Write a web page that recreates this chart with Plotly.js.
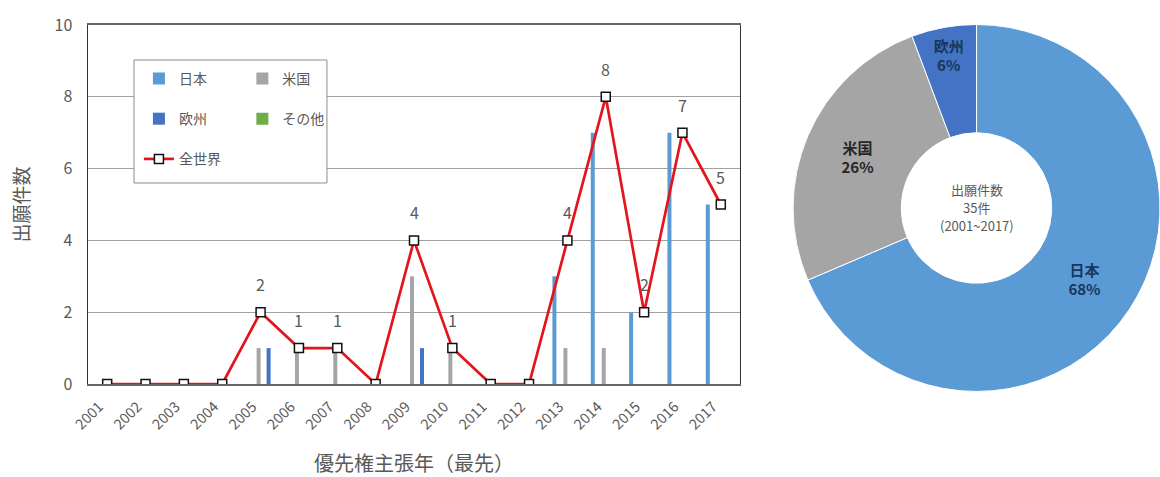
<!DOCTYPE html>
<html>
<head>
<meta charset="utf-8">
<script src="https://cdn.plot.ly/plotly-3.0.1.min.js"></script>
<style>
  html, body { margin: 0; padding: 0; background: #ffffff; }
  #chart { width: 1160px; height: 477px; }
</style>
</head>
<body>
<div id="chart"></div>
<script>
// ---- data ----
const years  = ['2001','2002','2003','2004','2005','2006','2007','2008','2009','2010','2011','2012','2013','2014','2015','2016','2017'];
const japan  = [0,0,0,0,0,0,0,0,0,0,0,0,3,7,2,7,5];
const usa    = [0,0,0,0,1,1,1,0,3,1,0,0,1,1,0,0,0];
const europe = [0,0,0,0,1,0,0,0,1,0,0,0,0,0,0,0,0];
const other  = [0,0,0,0,0,0,0,0,0,0,0,0,0,0,0,0,0];
const world  = [0,0,0,0,2,1,1,0,4,1,0,0,4,8,2,7,5];

const seriesNames = ['日本','米国','欧州','その他','全世界'];
const pieLabels = ['日本','米国','欧州'];
const pieValues = [24, 9, 2];
const piePct    = ['68%','26%','6%'];
const pieCenterLines = ['出願件数', '35件', '(2001~2017)'];

const xTitle = '優先権主張年（最先）';
const yTitle = '出願件数';

// ---- styles ----
const FONT = '"Noto Sans CJK JP", "Noto Sans", sans-serif';
const GREY = '#595959';
const C_JP = '#5b9bd5', C_US = '#a5a5a5', C_EU = '#4472c4', C_OT = '#70ad47', C_W = '#e3141b';
const BW = 0.104;

function barTrace(name, y, color, offset, legendId, grp) {
  return {
    type: 'bar', x: years, y: y, name: name,
    marker: { color: color },
    width: BW, offset: offset,
    legend: legendId, legendgroup: grp,
    hoverinfo: 'x+y+name'
  };
}

const PIE_DOMAIN = { x: [0.6577, 1], y: [0, 0.992] };

const traces = [
  barTrace(seriesNames[0], japan,  C_JP, -0.391, 'legend',  'g1'),
  barTrace(seriesNames[1], usa,    C_US, -0.104, 'legend2', 'g2'),
  barTrace(seriesNames[2], europe, C_EU,  0.157, 'legend',  'g3'),
  barTrace(seriesNames[3], other,  C_OT,  0.431, 'legend2', 'g4'),
  {
    type: 'scatter', mode: 'lines+markers', x: years, y: world, name: seriesNames[4],
    line: { color: C_W, width: 2.7 },
    marker: { symbol: 'square', size: 9, color: '#ffffff', line: { color: '#111111', width: 1.5 } },
    legend: 'legend', legendgroup: 'g5'
  },
  {
    type: 'pie', labels: pieLabels, values: pieValues, customdata: piePct,
    hole: 0.41, sort: false, direction: 'clockwise', rotation: 0,
    domain: PIE_DOMAIN,
    marker: { colors: [C_JP, C_US, C_EU], line: { color: '#ffffff', width: 1 } },
    texttemplate: '<b>%{label}<br>%{customdata}</b>',
    textposition: 'inside', insidetextorientation: 'horizontal',
    textfont: { family: FONT, size: 15, color: ['#17375e', '#262626', '#17375e'] },
    showlegend: false, hoverinfo: 'label+value+percent'
  }
];

const annotations = [];
years.forEach((yr, i) => {
  if (world[i] > 0) {
    annotations.push({
      x: i, y: world[i], xref: 'x', yref: 'y', text: String(world[i]),
      showarrow: false, yshift: 28,
      font: { family: FONT, size: 16, color: GREY }
    });
  }
});
// centre text of the doughnut, one line per annotation
const pieCx = (PIE_DOMAIN.x[0] + PIE_DOMAIN.x[1]) / 2;
const pieCy = (PIE_DOMAIN.y[0] + PIE_DOMAIN.y[1]) / 2;
pieCenterLines.forEach((t, i) => {
  annotations.push({
    x: pieCx, y: pieCy, xref: 'paper', yref: 'paper', text: t,
    xanchor: 'center', yanchor: 'middle',
    showarrow: false, yshift: 18 - 18 * i,
    font: { family: FONT, size: 13, color: GREY }
  });
});

const layout = {
  width: 1160, height: 477,
  margin: { l: 88, r: 0, t: 20, b: 84 },
  paper_bgcolor: '#ffffff', plot_bgcolor: '#ffffff',
  font: { family: FONT, color: GREY },
  barmode: 'group',
  showlegend: true,
  xaxis: {
    type: 'category', range: [-0.5, 16.5], domain: [0, 0.6082],
    tickangle: -45, tickfont: { size: 14.5, color: GREY },
    ticklabelstandoff: 7, ticklabelshift: -8,
    showgrid: false, showline: true, mirror: true, linecolor: '#666666', linewidth: 1.5,
    ticks: '', fixedrange: true,
    title: { text: xTitle, font: { size: 20, color: GREY }, standoff: 27 }
  },
  yaxis: {
    range: [0, 10], dtick: 2, domain: [0.0241, 0.9866],
    tickfont: { size: 16, color: GREY },
    showgrid: true, gridcolor: '#a0a0a0', gridwidth: 1,
    zeroline: false, showline: true, mirror: true, linecolor: '#333333', linewidth: 1.5,
    ticks: '', ticklabelstandoff: 11, fixedrange: true,
    title: { text: yTitle, font: { size: 19, color: GREY }, standoff: 20 }
  },
  legend: {
    x: 0.0475, y: 0.885, xanchor: 'left', yanchor: 'top',
    orientation: 'v', traceorder: 'grouped', tracegroupgap: 19,
    bgcolor: 'rgba(0,0,0,0)', borderwidth: 0,
    font: { family: FONT, size: 14, color: GREY }
  },
  legend2: {
    x: 0.1440, y: 0.885, xanchor: 'left', yanchor: 'top',
    orientation: 'v', traceorder: 'grouped', tracegroupgap: 19,
    bgcolor: 'rgba(0,0,0,0)', borderwidth: 0,
    font: { family: FONT, size: 14, color: GREY }
  },
  shapes: [{
    type: 'rect', xref: 'paper', yref: 'paper', layer: 'above',
    x0: 0.0429, x1: 0.2229, y0: 0.563, y1: 0.8928,
    line: { color: '#8c8c8c', width: 1 }, fillcolor: '#ffffff'
  }],
  annotations: annotations
};

Plotly.newPlot('chart', traces, layout, { displayModeBar: false, staticPlot: true });
</script>
</body>
</html>
